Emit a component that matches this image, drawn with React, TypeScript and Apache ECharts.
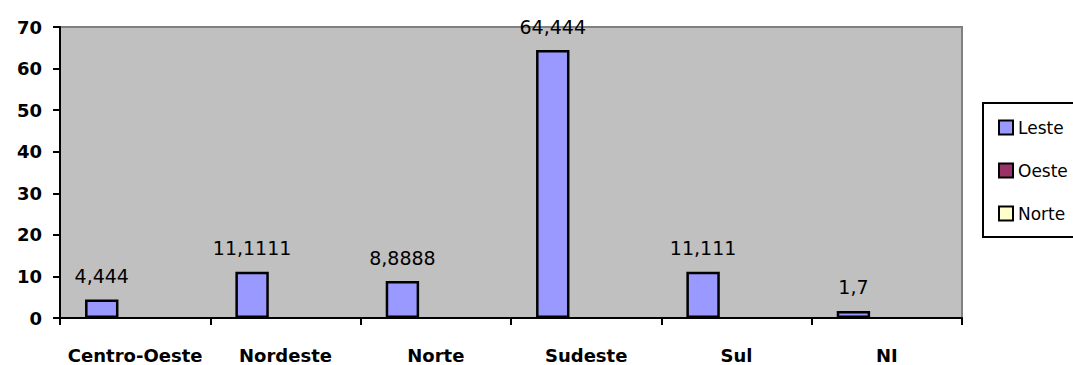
import React, { useEffect, useRef } from "react";
import * as echarts from "echarts";

const categories = ["Centro-Oeste", "Nordeste", "Norte", "Sudeste", "Sul", "NI"];
const lesteValues = [4.444, 11.1111, 8.8888, 64.444, 11.111, 1.7];
const oesteValues: (number | null)[] = [null, null, null, null, null, null];
const norteValues: (number | null)[] = [null, null, null, null, null, null];
const seriesNames = ["Leste", "Oeste", "Norte"];
const seriesColors = ["#9999FF", "#993366", "#FFFFCC"];

const FONT = "DejaVu Sans";

export default function App() {
  const ref = useRef<HTMLDivElement>(null);
  useEffect(() => {
    if (!ref.current) return;
    const chart = echarts.init(ref.current, undefined, { renderer: "svg" });
    const fmt = (p: any) => String(p.value).replace(".", ",");
    const datas = [lesteValues, oesteValues, norteValues];
    chart.setOption({
      animation: false,
      backgroundColor: "#FFFFFF",
      grid: {
        left: 60,
        right: 111,
        top: 27,
        bottom: 47,
        show: true,
        backgroundColor: "#C0C0C0",
        borderColor: "#808080",
        borderWidth: 2,
      },
      graphic: [
        {
          type: "rect",
          shape: { x: 983, y: 103, width: 100, height: 134 },
          style: { fill: "#FFFFFF", stroke: "#000000", lineWidth: 2 },
          z: 0,
        },
      ],
      legend: {
        orient: "vertical",
        left: 998,
        top: 119,
        padding: 0,
        itemWidth: 14,
        itemHeight: 14,
        itemGap: 26,
        icon: "rect",
        data: seriesNames,
        itemStyle: { borderColor: "#000000", borderWidth: 2 },
        textStyle: { fontFamily: FONT, fontSize: 17, color: "#000000" },
        z: 5,
      },
      xAxis: {
        type: "category",
        data: categories,
        axisLine: { lineStyle: { color: "#000000", width: 2 } },
        axisTick: { show: true, length: 7, lineStyle: { color: "#000000", width: 2 } },
        axisLabel: {
          fontFamily: FONT,
          fontWeight: "bold",
          fontSize: 18,
          color: "#000000",
          margin: 28,
          interval: 0,
        },
      },
      yAxis: {
        type: "value",
        min: 0,
        max: 70,
        interval: 10,
        splitLine: { show: false },
        axisLine: { show: true, lineStyle: { color: "#000000", width: 2 } },
        axisTick: { show: true, length: 7, lineStyle: { color: "#000000", width: 2 } },
        axisLabel: {
          fontFamily: FONT,
          fontWeight: "bold",
          fontSize: 18,
          color: "#000000",
          margin: 18,
        },
      },
      series: seriesNames.map((name, i) => ({
        name,
        type: "bar",
        data: datas[i],
        barGap: "0%",
        barCategoryGap: "33.33%",
        itemStyle: { color: seriesColors[i], borderColor: "#000000", borderWidth: 2.5 },
        label: {
          show: true,
          position: "top",
          distance: 14,
          formatter: fmt,
          fontFamily: FONT,
          fontSize: 19,
          color: "#000000",
        },
      })),
    });
    return () => chart.dispose();
  }, []);
  return (
    <div
      ref={ref}
      style={{ position: "fixed", left: 0, top: 0, width: 1073, height: 365 }}
    />
  );
}
